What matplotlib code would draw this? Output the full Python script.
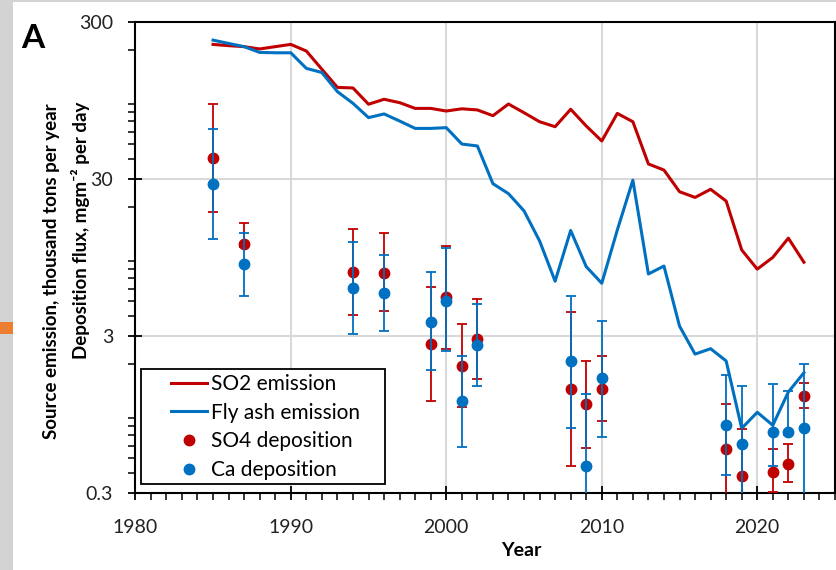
import matplotlib
matplotlib.use("Agg")
import matplotlib.pyplot as plt
import numpy as np
from matplotlib.lines import Line2D
from matplotlib.patches import Rectangle
from matplotlib.legend_handler import HandlerBase
from matplotlib.ticker import FixedLocator, NullFormatter, MultipleLocator

plt.rcParams['font.family'] = ['Lato', 'DejaVu Sans']

# Emission series (thousand tons per year)
em_years = list(range(1985, 2024))
so2_emission = [216, 212, 209, 202, 209, 216, 196, 150, 115, 114,
                89.8, 96.6, 91.9, 84.5, 84.5, 81.3, 84, 82.6, 75.9, 90.1,
                79.3, 69.5, 64.6, 83.4, 65.3, 52.4, 78.5, 69.5, 37.4, 34.2,
                24.9, 22.9, 25.8, 21.7, 10.6, 8.0, 9.5, 12.6, 8.85]
flyash_emission = [230, 219, 209, 192, 191, 191, 152, 143, 108, 91,
                   73.8, 77.9, 70.2, 63, 63, 63.7, 50.1, 48.7, 28, 24.2,
                   18.8, 12.1, 6.7, 14.1, 8.3, 6.5, 14.2, 29.5, 7.45, 8.37,
                   3.47, 2.30, 2.49, 2.08, 0.774, 0.98, 0.81, 1.32, 1.75]

# Deposition (mg m-2 per day) with lower / upper bounds
dep_years = [1985, 1987, 1994, 1996, 1999, 2000, 2001, 2002, 2008, 2009, 2010,
             2018, 2019, 2021, 2022, 2023]
so4_dep = [40.6, 11.6, 7.70, 7.6, 2.65, 5.31, 1.94, 2.88, 1.38, 1.10, 1.38,
           0.571, 0.387, 0.41, 0.461, 1.24]
so4_low = [18.6, 11.0, 4.10, 4.35, 1.16, 2.47, 1.06, 1.60, 0.448, 0.578, 0.859,
           0.2, 0.2, 0.305, 0.351, 1.05]
so4_high = [90.1, 15.8, 14.5, 13.5, 6.13, 11.3, 3.56, 5.16, 4.25, 2.09, 2.25,
            1.11, 0.768, 0.569, 0.618, 1.51]
ca_dep = [27.9, 8.6, 6.04, 5.64, 3.70, 5.04, 1.15, 2.63, 2.08, 0.446, 1.61,
          0.81, 0.615, 0.731, 0.731, 0.774]
ca_low = [12.4, 5.42, 3.09, 3.23, 1.82, 2.42, 0.586, 1.44, 0.78, 0.15, 0.686,
          0.393, 0.2, 0.448, 0.70, 0.2]
ca_high = [62.4, 13.6, 11.97, 9.9, 7.63, 10.9, 2.24, 4.78, 5.39, 1.28, 3.74,
           1.70, 1.44, 1.48, 1.34, 2.0]

legend_labels = ['SO2 emission', 'Fly ash emission', 'SO4 deposition', 'Ca deposition']
x_ticklabels = ['1980', '1990', '2000', '2010', '2020']
y_ticks = [0.3, 3, 30, 300]
y_ticklabels = ['0.3', '3', '30', '300']

RED = '#C00000'
BLUE = '#0070C0'

W, H = 836, 570
fig = plt.figure(figsize=(W / 100, H / 100), dpi=100)
fig.patch.set_facecolor('white')

# background strips
fig.patches.append(Rectangle((0, 0), 13 / W, 1, transform=fig.transFigure,
                             facecolor='#d3d3d3', edgecolor='none', zorder=0))
fig.patches.append(Rectangle((0, 1 - 2 / H), 1, 2 / H, transform=fig.transFigure,
                             facecolor='#d3d3d3', edgecolor='none', zorder=0))
fig.patches.append(Rectangle((0, 1 - 334 / H), 13 / W, 12 / H, transform=fig.transFigure,
                             facecolor='#ED7D31', edgecolor='none', zorder=1))

ax_l, ax_r, ax_t, ax_b = 135.3, 835, 22, 493
ax = fig.add_axes([ax_l / W, 1 - ax_b / H, (ax_r - ax_l) / W, (ax_b - ax_t) / H])

ax.set_yscale('log')
ax.set_xlim(1980, 2025)
ax.set_ylim(0.3, 300)

ax.plot(em_years, so2_emission, color=RED, lw=2.2, zorder=3)
ax.plot(em_years, flyash_emission, color=BLUE, lw=2.2, zorder=3)

so4_err = [np.array(so4_dep) - np.array(so4_low), np.array(so4_high) - np.array(so4_dep)]
ca_err = [np.array(ca_dep) - np.array(ca_low), np.array(ca_high) - np.array(ca_dep)]
ax.errorbar(dep_years, so4_dep, yerr=so4_err, fmt='o', color=RED, ms=7.5,
            elinewidth=1.3, capsize=3.3, capthick=1.3, zorder=4)
ax.errorbar(dep_years, ca_dep, yerr=ca_err, fmt='o', color=BLUE, ms=7.5,
            elinewidth=1.3, capsize=3.3, capthick=1.3, zorder=5)

# grid
for yv in [3, 30]:
    ax.axhline(yv, color='#d9d9d9', lw=1.5, zorder=1)
for xv in [1990, 2000, 2010, 2020]:
    ax.axvline(xv, color='#d9d9d9', lw=1.5, zorder=1)

# ticks
ax.yaxis.set_major_locator(FixedLocator(y_ticks))
ax.set_yticklabels(y_ticklabels)
ax.yaxis.set_minor_locator(FixedLocator(
    [m * d for d in [0.1, 1, 10, 100] for m in range(2, 10)
     if 0.3 < m * d < 300 and abs(m * d - 3) > 1e-9 and abs(m * d - 30) > 1e-9]))
ax.yaxis.set_minor_formatter(NullFormatter())
ax.xaxis.set_major_locator(FixedLocator([1980, 1990, 2000, 2010, 2020]))
ax.set_xticklabels(x_ticklabels)
ax.xaxis.set_minor_locator(MultipleLocator(1))

ax.tick_params(axis='both', which='major', direction='inout', length=10, width=1.3,
               labelsize=14, colors='black')
ax.tick_params(axis='x', which='major', pad=14)
ax.tick_params(axis='y', which='major', pad=11)
ax.tick_params(axis='both', which='minor', direction='out', length=5, width=1.1)
for lab in ax.get_xticklabels() + ax.get_yticklabels():
    lab.set_color('#222222')

for sp in ax.spines.values():
    sp.set_linewidth(1.5)
    sp.set_color('black')


# legend: handle drawn at the right end of the handle box
class RightHandler(HandlerBase):
    def __init__(self, kind, color, seg=26):
        super().__init__()
        self.kind, self.color, self.seg = kind, color, seg

    def create_artists(self, legend, orig_handle, xdescent, ydescent, width,
                       height, fontsize, trans):
        yc = height / 2 - ydescent
        x1 = width - xdescent
        x0 = x1 - self.seg
        if self.kind == 'line':
            a = Line2D([x0, x1], [yc, yc], color=self.color, lw=2.2)
        else:
            a = Line2D([(x0 + x1) / 2], [yc], color=self.color, marker='o',
                       ls='none', ms=7.5)
        a.set_transform(trans)
        return [a]


handles = [Line2D([], [], color=RED), Line2D([], [], color=BLUE),
           Line2D([], [], color=RED, marker='o'), Line2D([], [], color=BLUE, marker='o')]
hmap = {handles[0]: RightHandler('line', RED), handles[1]: RightHandler('line', BLUE),
        handles[2]: RightHandler('dot', RED), handles[3]: RightHandler('dot', BLUE)}

fx0 = (141 - ax_l) / (ax_r - ax_l)
fx1 = (385 - ax_l) / (ax_r - ax_l)
fy0 = (ax_b - 484) / (ax_b - ax_t)
fy1 = (ax_b - 369) / (ax_b - ax_t)
ax.add_patch(Rectangle((fx0, fy0), fx1 - fx0, fy1 - fy0, transform=ax.transAxes,
                       facecolor='white', edgecolor='black', lw=1.3, zorder=9))
leg = ax.legend(handles, legend_labels, handler_map=hmap, loc='upper left',
                bbox_to_anchor=(fx0, fy1), fontsize=15, frameon=False,
                handlelength=2.9, handletextpad=0.2, labelspacing=0.41,
                borderpad=0.25, borderaxespad=0)
leg.set_zorder(10)

# labels
fig.text(521 / W, 1 - 551 / H, 'Year', fontsize=14, fontweight='bold',
         ha='center', va='center')
fig.text(52 / W, 1 - 271 / H, 'Source emission, thousand tons per year',
         rotation=90, fontsize=13.5, fontweight='bold', ha='center', va='center')
fig.text(80 / W, 1 - 230 / H, 'Deposition flux, mgm\u207b\u00b2 per day',
         rotation=90, fontsize=13.5, fontweight='bold', ha='center', va='center',
         family=['Lato', 'DejaVu Sans'])
fig.text(33 / W, 1 - 38 / H, 'A', fontsize=24, fontweight='bold',
         ha='center', va='center')

fig.savefig('out.png', dpi=100, facecolor=fig.get_facecolor())
